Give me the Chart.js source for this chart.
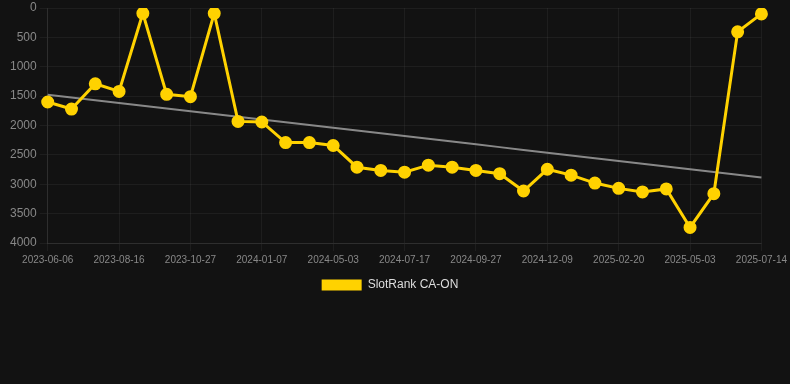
<!DOCTYPE html>
<html>
<head>
<meta charset="utf-8">
<script src="https://cdn.jsdelivr.net/npm/chart.js@4"></script>
<style>
  html, body { margin: 0; padding: 0; background: #121212; }
  #wrap { position: relative; width: 790px; height: 301px; }
</style>
</head>
<body>
<div id="wrap"><canvas id="c"></canvas></div>
<script>
const dates = [
  "2023-06-06","2023-06-30","2023-07-24","2023-08-16","2023-09-09","2023-10-03",
  "2023-10-27","2023-11-20","2023-12-14","2024-01-07","2024-02-15","2024-03-25",
  "2024-05-03","2024-05-28","2024-06-22","2024-07-17","2024-08-10","2024-09-03",
  "2024-09-27","2024-10-21","2024-11-15","2024-12-09","2025-01-02","2025-01-27",
  "2025-02-20","2025-03-16","2025-04-09","2025-05-03","2025-05-27","2025-06-20",
  "2025-07-14"
];
const rankValues = [
  1600, 1720, 1290, 1420, 90, 1470, 1510, 90, 1930, 1940,
  2290, 2290, 2340, 2710, 2765, 2795, 2675, 2710, 2765, 2820,
  3115, 2745, 2845, 2980, 3070, 3130, 3080, 3735, 3160, 405,
  100
];
const yTicks = [0, 500, 1000, 1500, 2000, 2500, 3000, 3500, 4000];
const seriesName = "SlotRank CA-ON";

// least-squares trend line derived from the series
const n = rankValues.length;
const mx = (n - 1) / 2;
const my = rankValues.reduce((a, b) => a + b, 0) / n;
let sxy = 0, sxx = 0;
rankValues.forEach((v, i) => { sxy += (i - mx) * (v - my); sxx += (i - mx) * (i - mx); });
const slope = sxy / sxx;
const trend = rankValues.map((v, i) => my + slope * (i - mx));

Chart.defaults.font.family = "'Liberation Sans', Arial, Helvetica, sans-serif";

new Chart(document.getElementById('c'), {
  type: 'line',
  data: {
    labels: dates,
    datasets: [
      {
        label: seriesName,
        data: rankValues,
        borderColor: '#FFD200',
        backgroundColor: '#FFD200',
        borderWidth: 3,
        pointRadius: 5,
        pointHoverRadius: 5,
        pointBackgroundColor: '#FFD200',
        pointBorderColor: '#FFD200',
        tension: 0,
        order: 1
      },
      {
        label: 'trend',
        data: trend,
        borderColor: 'rgba(150,150,150,0.9)',
        borderWidth: 2,
        pointRadius: 0,
        fill: false,
        tension: 0,
        order: 2
      }
    ]
  },
  options: {
    responsive: true,
    maintainAspectRatio: false,
    animation: false,
    layout: { padding: { left: 7, right: 17, top: 0, bottom: 0 } },
    plugins: {
      legend: {
        position: 'bottom',
        labels: {
          color: '#dddddd',
          font: { size: 12 },
          boxWidth: 40,
          boxHeight: 11,
          filter: (item) => item.text === seriesName,
          generateLabels: (chart) => Chart.defaults.plugins.legend.labels.generateLabels(chart)
            .map(it => Object.assign(it, { lineWidth: 0, strokeStyle: 'transparent' }))
        }
      },
      tooltip: { enabled: false }
    },
    scales: {
      x: {
        grid: { color: 'rgba(255,255,255,0.05)', drawTicks: true },
        border: { color: 'rgba(255,255,255,0.08)' },
        ticks: {
          color: '#888888',
          font: { size: 10 },
          maxRotation: 0,
          autoSkip: true,
          maxTicksLimit: 11
        }
      },
      y: {
        reverse: true,
        min: 0,
        max: 4000,
        afterBuildTicks: (axis) => { axis.ticks = yTicks.map(v => ({ value: v })); },
        grid: { color: 'rgba(255,255,255,0.05)' },
        border: { color: 'rgba(255,255,255,0.08)' },
        ticks: { color: '#888888', font: { size: 12, lineHeight: 0.62 }, callback: (v) => String(v) }
      }
    }
  }
});
</script>
</body>
</html>
